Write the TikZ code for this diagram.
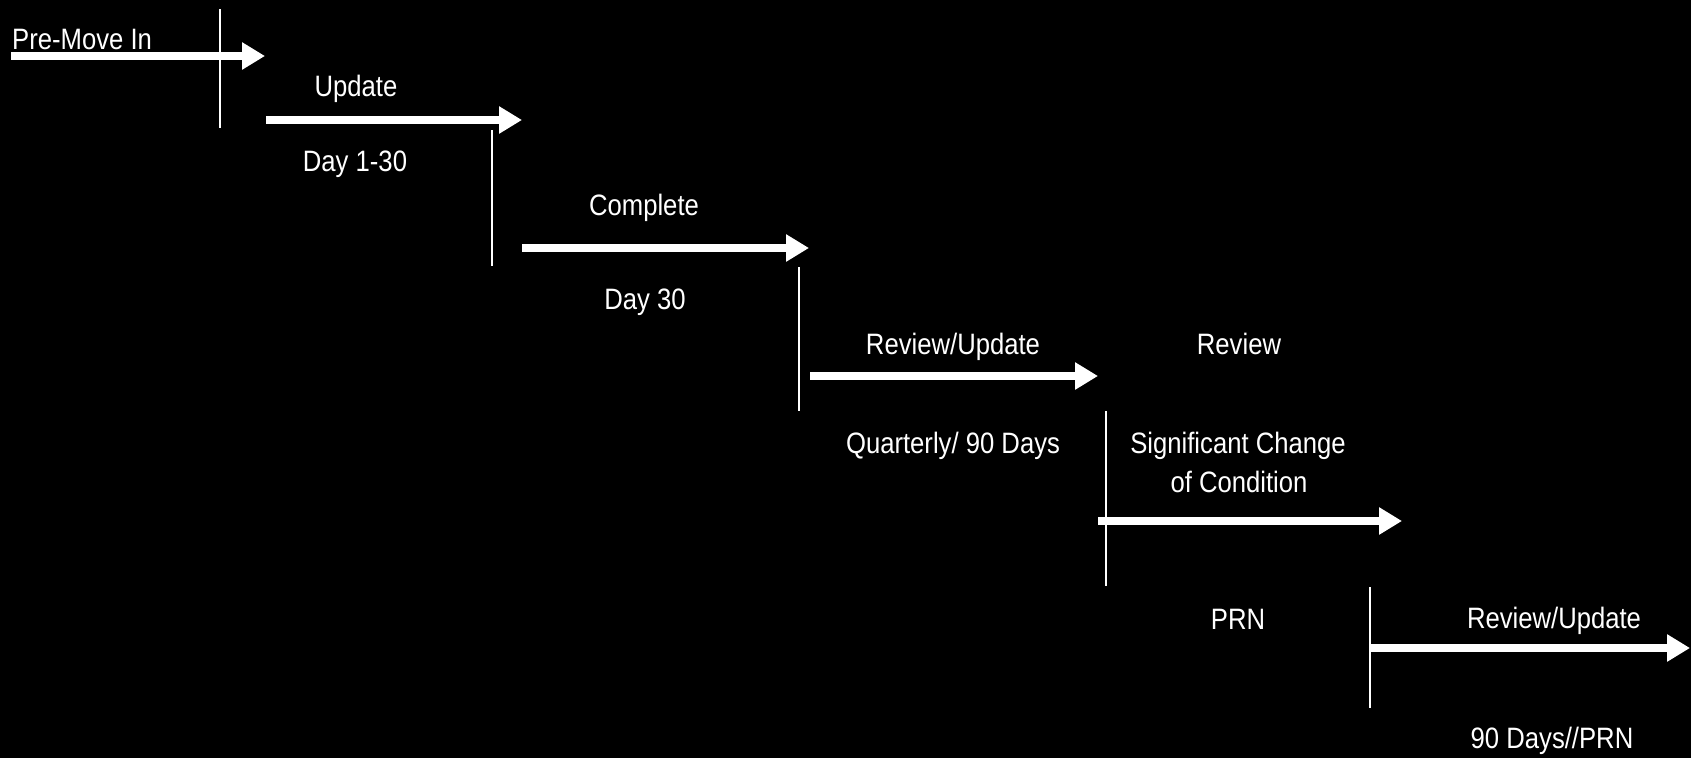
\documentclass[tikz,border=0pt]{standalone}
\usepackage{fontspec}
\setmainfont{Liberation Sans}[FakeStretch=0.87]
\usetikzlibrary{arrows.meta}
\begin{document}
\begin{tikzpicture}[x=1pt,y=-1pt,
  flow/.style={white, line width=8pt, -{Triangle[length=23pt,width=26pt]}},
  tick/.style={white, line width=2.5pt},
  lbl/.style={text=white, anchor=base, inner sep=0pt, font=\fontsize{29.5}{34}\selectfont}]
\fill[black] (0,0) rectangle (1691,758);
\useasboundingbox (0,0) rectangle (1691,758);
% vertical ticks
\coordinate (t1a) at (220,9);    \coordinate (t1b) at (220,128);
\coordinate (t2a) at (492,130);  \coordinate (t2b) at (492,266);
\coordinate (t3a) at (799,267);  \coordinate (t3b) at (799,411);
\coordinate (t4a) at (1106,411); \coordinate (t4b) at (1106,586);
\coordinate (t5a) at (1370,587); \coordinate (t5b) at (1370,708);
\draw[tick] (t1a) -- (t1b);
\draw[tick] (t2a) -- (t2b);
\draw[tick] (t3a) -- (t3b);
\draw[tick] (t4a) -- (t4b);
\draw[tick] (t5a) -- (t5b);
% arrows
\coordinate (a1s) at (11,56);    \coordinate (a1e) at (265,56);
\coordinate (a2s) at (266,120);  \coordinate (a2e) at (522,120);
\coordinate (a3s) at (522,248);  \coordinate (a3e) at (809,248);
\coordinate (a4s) at (810,376);  \coordinate (a4e) at (1098,376);
\coordinate (a5s) at (1098,521); \coordinate (a5e) at (1402,521);
\coordinate (a6s) at (1370,648); \coordinate (a6e) at (1690,648);
\draw[flow] (a1s) -- (a1e);
\draw[flow] (a2s) -- (a2e);
\draw[flow] (a3s) -- (a3e);
\draw[flow] (a4s) -- (a4e);
\draw[flow] (a5s) -- (a5e);
\draw[flow] (a6s) -- (a6e);
% labels
\node[lbl, anchor=base west] (pre) at (12,49) {Pre-Move In};
\node[lbl] (upd) at (356,96) {Update};
\node[lbl] (d130) at (355,171) {Day 1-30};
\node[lbl] (cmp) at (644,215) {Complete};
\node[lbl] (d30) at (645,309) {Day 30};
\node[lbl] (ru1) at (953,354) {Review/Update};
\node[lbl] (rev) at (1239,354) {Review};
\node[lbl] (qtr) at (953,453) {Quarterly/ 90 Days};
\node[lbl] (sig) at (1238,453) {Significant Change};
\node[lbl] (cond) at (1239,492) {of Condition};
\node[lbl] (prn) at (1238,629) {PRN};
\node[lbl] (ru2) at (1554,628) {Review/Update};
\node[lbl] (d90) at (1552,748) {90 Days//PRN};
\end{tikzpicture}
\end{document}
